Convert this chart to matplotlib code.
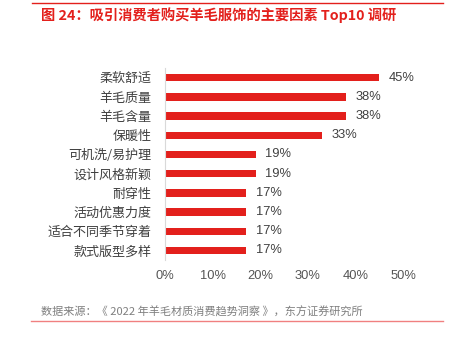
import matplotlib.pyplot as plt

plt.rcParams['font.family'] = ['Noto Sans CJK SC', 'DejaVu Sans']

categories = ['柔软舒适', '羊毛质量', '羊毛含量', '保暖性', '可机洗/易护理',
              '设计风格新颖', '耐穿性', '活动优惠力度', '适合不同季节穿着', '款式版型多样']
values = [45, 38, 38, 33, 19, 19, 17, 17, 17, 17]
xticks = [0, 10, 20, 30, 40, 50]

fig = plt.figure(figsize=(4.5, 3.44), dpi=100)
ax = fig.add_axes([0.367, 0.244, 0.529, 0.558])

y = list(range(len(categories)))
ax.barh(y, values, height=0.38, color='#e3201c')
for yi, v in zip(y, values):
    ax.text(v + 2.0, yi, f'{v}%', va='center', ha='left', fontsize=9.3,
            color='#404040', family=['Liberation Sans', 'DejaVu Sans'])

ax.set_xlim(0, 50)
ax.set_ylim(len(categories) - 0.5, -0.5)
ax.set_yticks(y)
ax.set_yticklabels(categories, fontsize=9.4, color='#404040')
ax.set_xticks(xticks)
ax.set_xticklabels([f'{t}%' for t in xticks], fontsize=9.3, color='#555555',
                   family=['Liberation Sans', 'DejaVu Sans'])
ax.tick_params(axis='both', length=0)
ax.tick_params(axis='x', pad=7)
ax.tick_params(axis='y', pad=10)
for s in ['top', 'right', 'bottom']:
    ax.spines[s].set_visible(False)
ax.spines['left'].set_color('#d9d9d9')

fig.add_artist(plt.Line2D([0.071, 0.984], [0.991, 0.991], color='#e3201c', lw=1))
fig.text(0.091, 0.956, '图 24：吸引消费者购买羊毛服饰的主要因素 Top10 调研',
         fontsize=10.3, color='#e3201c', fontweight='bold', va='center')
fig.text(0.091, 0.093, '数据来源：《 2022 年羊毛材质消费趋势洞察 》，东方证券研究所',
         fontsize=8, color='#7f7f7f', va='center')
fig.add_artist(plt.Line2D([0.069, 0.984], [0.067, 0.067], color='#f08080', lw=1))

fig.savefig('out.png', dpi=100)
